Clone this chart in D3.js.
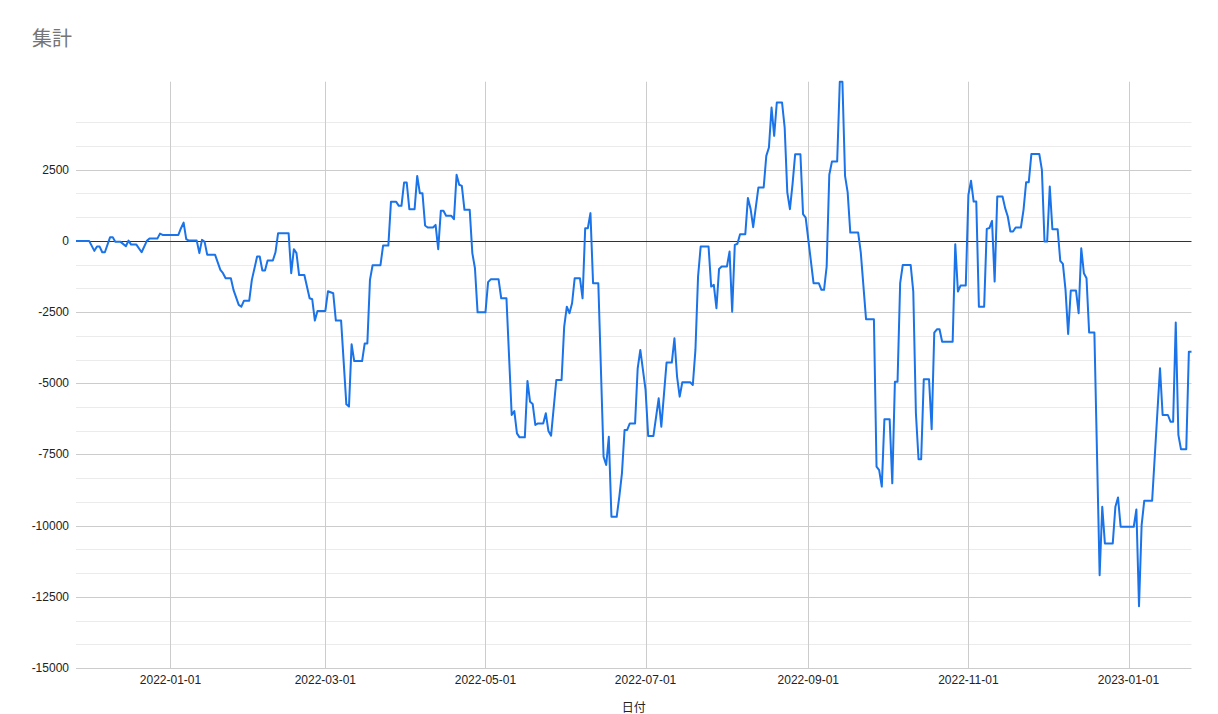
<!DOCTYPE html>
<html lang="ja">
<head>
<meta charset="utf-8">
<title>集計</title>
<script src="https://cdn.jsdelivr.net/npm/d3@7"></script>
<style>
  body { margin: 0; background: #fff; }
  #chart { width: 1218px; height: 714px; }
  .tick-label { font-family: "Liberation Sans", Arial, sans-serif; font-size: 12px; fill: #222; }
</style>
</head>
<body>
<div id="chart"></div>
<script>
// Daily running total (集計), one row per change point
const dates = [
  "2021-11-26",
  "2021-12-01", "2021-12-03", "2021-12-04", "2021-12-05", "2021-12-06", "2021-12-07", "2021-12-09", "2021-12-10", "2021-12-11", "2021-12-13", "2021-12-15", "2021-12-16", "2021-12-17", "2021-12-19", "2021-12-21", "2021-12-23", "2021-12-24", "2021-12-27", "2021-12-28", "2021-12-29",
  "2022-01-04", "2022-01-05", "2022-01-06", "2022-01-07", "2022-01-08", "2022-01-11", "2022-01-12", "2022-01-13", "2022-01-14", "2022-01-15", "2022-01-18", "2022-01-20", "2022-01-21", "2022-01-22", "2022-01-24", "2022-01-25", "2022-01-27", "2022-01-28", "2022-01-29", "2022-01-31",
  "2022-02-01", "2022-02-03", "2022-02-04", "2022-02-05", "2022-02-06", "2022-02-07", "2022-02-09", "2022-02-10", "2022-02-11", "2022-02-15", "2022-02-16", "2022-02-17", "2022-02-18", "2022-02-19", "2022-02-21", "2022-02-23", "2022-02-24", "2022-02-25", "2022-02-26",
  "2022-03-01", "2022-03-02", "2022-03-04", "2022-03-05", "2022-03-07", "2022-03-09", "2022-03-10", "2022-03-11", "2022-03-12", "2022-03-15", "2022-03-16", "2022-03-17", "2022-03-18", "2022-03-19", "2022-03-22", "2022-03-23", "2022-03-25", "2022-03-26", "2022-03-28", "2022-03-29", "2022-03-30", "2022-03-31",
  "2022-04-01", "2022-04-02", "2022-04-04", "2022-04-05", "2022-04-06", "2022-04-07", "2022-04-08", "2022-04-09", "2022-04-11", "2022-04-12", "2022-04-13", "2022-04-14", "2022-04-15", "2022-04-16", "2022-04-18", "2022-04-19", "2022-04-20", "2022-04-21", "2022-04-22", "2022-04-23", "2022-04-25", "2022-04-26", "2022-04-27", "2022-04-28",
  "2022-05-01", "2022-05-02", "2022-05-03", "2022-05-06", "2022-05-07", "2022-05-09", "2022-05-11", "2022-05-12", "2022-05-13", "2022-05-14", "2022-05-16", "2022-05-17", "2022-05-18", "2022-05-19", "2022-05-20", "2022-05-21", "2022-05-23", "2022-05-24", "2022-05-25", "2022-05-26", "2022-05-28", "2022-05-30", "2022-05-31",
  "2022-06-01", "2022-06-02", "2022-06-03", "2022-06-04", "2022-06-06", "2022-06-07", "2022-06-08", "2022-06-09", "2022-06-10", "2022-06-11", "2022-06-13", "2022-06-15", "2022-06-16", "2022-06-17", "2022-06-18", "2022-06-20", "2022-06-21", "2022-06-22", "2022-06-23", "2022-06-24", "2022-06-25", "2022-06-27", "2022-06-28", "2022-06-29",
  "2022-07-01", "2022-07-02", "2022-07-04", "2022-07-06", "2022-07-07", "2022-07-09", "2022-07-11", "2022-07-12", "2022-07-13", "2022-07-14", "2022-07-15", "2022-07-18", "2022-07-19", "2022-07-20", "2022-07-21", "2022-07-22", "2022-07-25", "2022-07-26", "2022-07-27", "2022-07-28", "2022-07-29", "2022-07-30",
  "2022-08-01", "2022-08-02", "2022-08-03", "2022-08-04", "2022-08-05", "2022-08-06", "2022-08-08", "2022-08-09", "2022-08-10", "2022-08-11", "2022-08-13", "2022-08-15", "2022-08-16", "2022-08-17", "2022-08-18", "2022-08-19", "2022-08-20", "2022-08-22", "2022-08-23", "2022-08-24", "2022-08-25", "2022-08-26", "2022-08-27", "2022-08-29", "2022-08-30", "2022-08-31",
  "2022-09-03", "2022-09-05", "2022-09-06", "2022-09-07", "2022-09-08", "2022-09-09", "2022-09-10", "2022-09-12", "2022-09-13", "2022-09-14", "2022-09-15", "2022-09-16", "2022-09-17", "2022-09-20", "2022-09-21", "2022-09-23", "2022-09-26", "2022-09-27", "2022-09-28", "2022-09-29", "2022-09-30",
  "2022-10-02", "2022-10-03", "2022-10-04", "2022-10-05", "2022-10-06", "2022-10-07", "2022-10-10", "2022-10-11", "2022-10-12", "2022-10-13", "2022-10-14", "2022-10-15", "2022-10-17", "2022-10-18", "2022-10-19", "2022-10-20", "2022-10-21", "2022-10-22", "2022-10-26", "2022-10-27", "2022-10-28", "2022-10-29", "2022-10-31",
  "2022-11-01", "2022-11-02", "2022-11-03", "2022-11-04", "2022-11-05", "2022-11-07", "2022-11-08", "2022-11-09", "2022-11-10", "2022-11-11", "2022-11-12", "2022-11-14", "2022-11-15", "2022-11-16", "2022-11-17", "2022-11-18", "2022-11-19", "2022-11-21", "2022-11-22", "2022-11-23", "2022-11-24", "2022-11-25", "2022-11-28", "2022-11-29", "2022-11-30",
  "2022-12-01", "2022-12-02", "2022-12-03", "2022-12-05", "2022-12-06", "2022-12-07", "2022-12-08", "2022-12-09", "2022-12-10", "2022-12-12", "2022-12-13", "2022-12-14", "2022-12-15", "2022-12-16", "2022-12-17", "2022-12-19", "2022-12-21", "2022-12-22", "2022-12-23", "2022-12-26", "2022-12-27", "2022-12-28", "2022-12-29",
  "2023-01-03", "2023-01-04", "2023-01-05", "2023-01-06", "2023-01-07", "2023-01-10", "2023-01-13", "2023-01-14", "2023-01-16", "2023-01-17", "2023-01-18", "2023-01-19", "2023-01-20", "2023-01-21", "2023-01-23", "2023-01-24", "2023-01-25"
];

const totals = [
  0,
  0, -350, -200, -200, -400, -400, 130, 130, -35, -35, -190, 10, -130, -130, -400, 0, 80, 80, 255, 210,
  210, 445, 640, 60, 10, 10, -430, 35, -35, -490, -490, -1020, -1135, -1310, -1310, -1720, -2250, -2310, -2100, -2100,
  -1370, -550, -550, -1040, -1040, -690, -690, -400, 270, 270, -1135, -290, -430, -1200, -1200, -2015, -2050, -2800, -2460,
  -2460, -1770, -1840, -2800, -2800, -5740, -5820, -3630, -4220, -4220, -3600, -3600, -1370, -855, -855, -165, -165, 1370, 1370, 1230, 1230, 2050,
  2050, 1115, 1115, 2280, 1675, 1675, 540, 470, 470, 560, -290, 1055, 1055, 880, 880, 760, 2320, 1970, 1930, 1090, 1090, -430, -960, -2510,
  -2510, -1450, -1350, -1350, -2015, -2015, -6115, -5975, -6760, -6900, -6900, -4920, -5650, -5730, -6465, -6410, -6410, -6055, -6680, -6840, -4885, -4885, -3010,
  -2310, -2540, -2190, -1310, -1310, -2015, 445, 445, 975, -1490, -1490, -7580, -7870, -6880, -9690, -9690, -8985, -8165, -6640, -6640, -6410, -6410, -4475, -3830,
  -5235, -6850, -6850, -5530, -6525, -4275, -4275, -3420, -4770, -5470, -4965, -4965, -5060, -3830, -1255, -200, -200, -1605, -1545, -2365, -985, -900,
  -900, -375, -2485, -140, -100, 235, 235, 1510, 1130, 480, 1875, 1875, 2985, 3280, 4685, 3690, 4860, 4860, 3980, 1700, 1115, 1990, 3045, 3045, 940, 820,
  -1485, -1485, -1720, -1720, -900, 2320, 2785, 2785, 5590, 5590, 2285, 1700, 290, 290, -410, -2750, -2750, -7930, -8050, -8630, -6265,
  -6265, -8515, -4945, -4945, -1485, -845, -845, -1780, -6055, -7670, -7670, -4860, -4860, -6615, -3220, -3105, -3105, -3540, -3540, -115, -1780, -1570, -1570,
  1615, 2110, 1380, 1380, -2310, -2310, 420, 450, 700, -1430, 1560, 1560, 1150, 855, 330, 330, 470, 470, 1090, 2060, 2060, 3055, 3055, 2495, -25,
  -25, 1910, 410, 410, -700, -810, -1720, -3270, -1745, -1745, -2540, -260, -1135, -1310, -3220, -3220, -11740, -9340, -10625, -10625, -9340, -9010, -10040,
  -10040, -9430, -12830, -9980, -9125, -9125, -4475, -6115, -6115, -6350, -6350, -2870, -6815, -7320, -7320, -3890, -3890
];

const yTicks = [-15000, -12500, -10000, -7500, -5000, -2500, 0, 2500];
const xTickLabels = ["2022-01-01", "2022-03-01", "2022-05-01", "2022-07-01", "2022-09-01", "2022-11-01", "2023-01-01"];

const chartTitle = "集計";
const xAxisTitle = "日付";

class TotalChart {
  constructor(containerId) {
    this.container = document.getElementById(containerId);
    this.parse = d3.timeParse('%Y-%m-%d');

    // Layout
    this.config = {
      width: 1218,
      height: 714,
      left: 76,
      right: 1191.5,
      top: 81.7,
      bottom: 668,
      minorPerMajor: 2,
      lineColor: '#1a73e8'
    };

    this.init();
  }

  init() {
    const c = this.config;
    if (dates.length !== totals.length) console.warn('dates/totals length mismatch');

    this.data = dates.map((d, i) => ({ date: this.parse(d), value: totals[i] }));

    this.svg = d3.select(this.container)
      .append('svg')
      .attr('width', c.width)
      .attr('height', c.height);

    this.x = d3.scaleTime()
      .domain(d3.extent(this.data, d => d.date))
      .range([c.left, c.right]);

    this.y = d3.scaleLinear()
      .domain([yTicks[0], d3.max(this.data, d => d.value)])
      .range([c.bottom, c.top]);

    this.drawGrid();
    this.drawLabels();
    this.drawLine();
  }

  /**
   * Minor + major gridlines, zero baseline
   */
  drawGrid() {
    const c = this.config;
    const step = yTicks[1] - yTicks[0];
    const minor = [];
    yTicks.forEach(t => {
      for (let k = 1; k <= c.minorPerMajor; k++) minor.push(t + k * step / (c.minorPerMajor + 1));
    });

    const grid = this.svg.append('g').attr('class', 'grid');

    grid.selectAll('line.minor')
      .data(minor)
      .join('line')
      .attr('class', 'minor')
      .attr('x1', c.left).attr('x2', c.right)
      .attr('y1', d => Math.round(this.y(d)) + 0.5)
      .attr('y2', d => Math.round(this.y(d)) + 0.5)
      .attr('stroke', '#ebebeb');

    grid.selectAll('line.major')
      .data(yTicks.filter(t => t !== 0))
      .join('line')
      .attr('class', 'major')
      .attr('x1', c.left).attr('x2', c.right)
      .attr('y1', d => Math.round(this.y(d)) + 0.5)
      .attr('y2', d => Math.round(this.y(d)) + 0.5)
      .attr('stroke', '#cccccc');

    grid.selectAll('line.vert')
      .data(xTickLabels.map(this.parse))
      .join('line')
      .attr('class', 'vert')
      .attr('x1', d => Math.round(this.x(d)) + 0.5)
      .attr('x2', d => Math.round(this.x(d)) + 0.5)
      .attr('y1', c.top).attr('y2', c.bottom)
      .attr('stroke', '#cccccc');

    grid.append('line')
      .attr('x1', c.left).attr('x2', c.right)
      .attr('y1', Math.round(this.y(0)) + 0.5)
      .attr('y2', Math.round(this.y(0)) + 0.5)
      .attr('stroke', '#333333');
  }

  /**
   * Tick labels and titles
   */
  drawLabels() {
    const c = this.config;

    this.svg.append('g')
      .selectAll('text')
      .data(yTicks)
      .join('text')
      .attr('class', 'tick-label')
      .attr('x', c.left - 7)
      .attr('y', d => this.y(d) + 4)
      .attr('text-anchor', 'end')
      .text(d => d);

    this.svg.append('g')
      .selectAll('text')
      .data(xTickLabels)
      .join('text')
      .attr('class', 'tick-label')
      .attr('x', d => this.x(this.parse(d)))
      .attr('y', c.bottom + 16)
      .attr('text-anchor', 'middle')
      .text(d => d);

    this.svg.append('text')
      .attr('x', 32)
      .attr('y', 46)
      .attr('font-family', '"Noto Sans CJK JP", "Noto Sans", sans-serif')
      .attr('font-size', 20)
      .attr('fill', '#757575')
      .text(chartTitle);

    this.svg.append('text')
      .attr('x', (c.left + c.right) / 2)
      .attr('y', 712)
      .attr('text-anchor', 'middle')
      .attr('font-family', '"Noto Sans CJK JP", "Noto Sans", sans-serif')
      .attr('font-size', 12)
      .attr('fill', '#222')
      .text(xAxisTitle);
  }

  /**
   * The running total line
   */
  drawLine() {
    const line = d3.line()
      .x(d => this.x(d.date))
      .y(d => this.y(d.value));

    this.svg.append('path')
      .datum(this.data)
      .attr('fill', 'none')
      .attr('stroke', this.config.lineColor)
      .attr('stroke-width', 2)
      .attr('stroke-linejoin', 'round')
      .attr('d', line);
  }
}

new TotalChart('chart');
</script>
</body>
</html>
